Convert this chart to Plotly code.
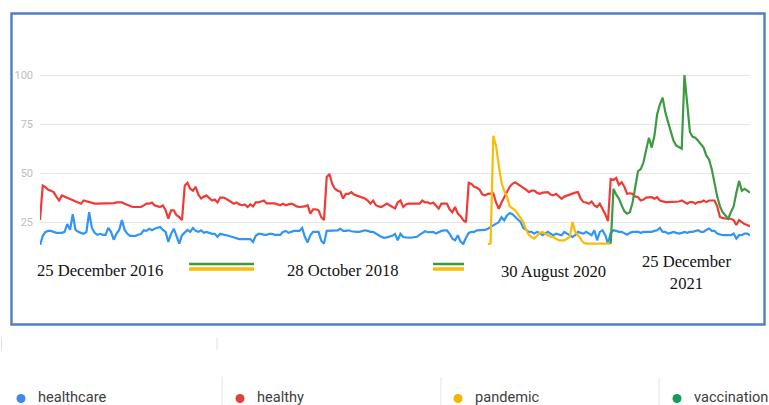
import pandas as pd
import plotly.graph_objects as go

# ---------------- data (Google Trends style, weekly) ----------------
week_start = "2016-12-25"
pandemic_start = "2020-02-16"
vaccination_start = "2020-12-27"

series_names = ["healthcare", "healthy", "pandemic", "vaccination"]
line_colors = ["#2f96f3", "#ef3b36", "#fbbc05", "#3d9a40"]
dot_colors = ["#4285f4", "#db4437", "#f4b400", "#0f9d58"]

healthcare = [
    13, 18, 20, 20.5, 20.5, 20, 19.5, 19.5, 19.5, 20,
    24, 21, 29, 21, 20, 19.5, 19, 20, 30, 22,
    19.5, 18.5, 19, 18.5, 18.5, 22, 20, 16, 19, 21,
    26, 21, 19, 18, 18, 18, 18.5, 19, 20.8, 20.5,
    21.6, 20.8, 21.6, 22, 22.5, 21, 20, 14.9, 19, 21.6,
    18, 14, 18.3,
    19.5, 21, 20, 22, 20.5, 20, 20.8, 19.5, 20, 19.5,
    19, 19, 17.5, 19, 18.5, 18.3, 18, 17.5, 17.4, 16.5,
    16.3, 16.3, 16.3, 16.3, 16.3, 14.8, 18, 19, 19, 18.5,
    18.5, 19, 19, 18.5, 18.5, 18.5, 20, 20.5, 19.5, 20,
    20.5, 20.5, 20.5, 22, 17.5, 14.6, 18.3, 20, 20, 20,
    15.5, 14,
    20.5, 20.5, 20.8, 20.8, 20.8, 21.6, 20.5, 20.5, 20.8, 20.3,
    20, 20, 20, 20.5, 20.8, 20.5, 20, 20, 19, 18.3,
    17.5, 17, 17.2, 17.5, 18, 19, 15.7, 19, 17.4, 17.2,
    17, 17, 17.3, 17.5, 18.5, 19.5, 20.3, 19.8, 20, 20,
    19.2, 20, 20.5, 20.8, 20.8, 19, 16.5, 15.7, 18.3, 15,
    13.8, 17,
    19.5, 20, 20, 20.8, 20.8, 20.8, 21, 21.6, 22.5, 23.3,
    24, 25, 27.5, 25.9, 28.4, 29.6, 29, 27.5, 26, 25,
    22, 20.8, 20, 20, 19.1, 20, 19.5, 18.3, 19, 20,
    19, 18.3, 19.1, 18.5, 18.3, 20, 19.1, 18.5, 17.4, 18.3,
    20, 19.5, 19.1, 20, 19, 18.3, 20.8, 15.7, 20, 20.8,
    18.3, 14,
    19.5, 20.8, 20.5, 20, 20, 19.1, 18.5, 19.5, 20, 20,
    20, 19.5, 20, 20, 20, 20, 20.5, 20.8, 22, 20,
    20, 19.1, 19.5, 20, 19.5, 19.1, 19.5, 20, 19.5, 20,
    20, 20.5, 20.8, 20, 20, 21, 21.7, 20.5, 20.5, 19.1,
    18.5, 18.3, 18.3, 18.3, 18.3, 19.1, 16.6, 18.3, 18.3, 19.1,
    19.1, 18.3,
]

healthy = [
    26, 43.6, 42.8, 41.5, 41, 40.3, 38, 36, 38.6, 38,
    37.5, 37, 36.3, 36, 35, 34.4, 36, 35.5, 35, 34.7,
    34.4, 34.4, 34.4, 34.4, 34.4, 34.4, 34.4, 34.7, 35, 35,
    35, 34.3, 33.6, 33.2, 32.7, 32.7, 32.7, 32.7, 33.5, 34.4,
    34.4, 35, 33.5, 33, 32.7, 33.5, 31, 26.8, 31, 31,
    28.5, 27.5, 26,
    43.6, 45, 42, 41, 43, 39, 37, 38, 38.5, 37,
    36, 36.5, 35, 37.5, 37.5, 37, 36, 35, 34.4, 35,
    34, 33.6, 34, 32.7, 34, 33, 35, 35, 35.5, 36,
    34.5, 34.5, 34.5, 34.5, 34, 33.6, 34.4, 33.6, 34, 34.4,
    33.8, 33, 32.7, 32.7, 33, 33.6, 29.3, 31.5, 31.5, 31,
    27.5, 26,
    48, 49.5, 44.5, 42, 41, 40.5, 37, 39.4, 39.4, 40.3,
    39, 38.5, 38, 37.5, 37, 36, 34.4, 36, 33.6, 33,
    32.7, 33.5, 34.4, 33.6, 33, 32, 35, 36, 32.7, 34,
    34.4, 34.4, 34.4, 34.4, 34.4, 36, 35, 35, 34.4, 35,
    33.5, 31.9, 34.4, 34.4, 34.4, 31.5, 30, 32.7, 29.3, 28,
    26, 25,
    45, 44.5, 43, 42.5, 41.5, 39, 38.6, 39.4, 39.4, 39.6,
    35, 31.8, 35, 38, 40.3, 43, 44.5, 45.3, 44.5, 43.7,
    42.5, 41.5, 40.3, 41, 41, 40, 39.4, 40, 40.3, 40.3,
    39, 38.6, 39.4, 38, 36.9, 38, 38.6, 39, 39.4, 40,
    40.3, 36.9, 35.2, 35, 34.4, 35.5, 33.5, 32.7, 34.4, 32,
    29, 25.5,
    47, 46.5, 47.5, 44, 45.3, 43, 39.4, 39.7, 39.4, 38,
    37.7, 36, 36.5, 37.5, 37.7, 37.7, 36.9, 37.7, 36, 35.5,
    35.2, 35.2, 35.2, 35.2, 35.2, 35.5, 36, 35, 34.4, 35.2,
    35.2, 34.4, 35.2, 35.2, 36, 35.2, 36, 36, 36, 33,
    27.6, 27, 26.7, 26.7, 26.7, 26, 23.5, 26, 25, 24,
    23.5, 22.7,
]

pandemic = [
    13.8, 14, 69, 64, 54, 45, 41, 38, 33, 31.8,
    31, 29, 27, 25, 21, 18.5, 17.4, 16.6, 18, 19.5,
    20, 19, 18.3, 17.5, 17.4, 16.5, 15.7, 15.7, 15.7, 16.6,
    17.4, 25, 20, 18.3, 16.6, 14.5, 14, 14, 14, 14,
    14, 14, 14, 14, 14, 14,
]

vaccination = [
    14, 42, 39, 37, 33.5, 30.5, 29.3, 30, 35, 44,
    51, 52, 55.5, 62, 68, 63, 69, 80, 85, 88.5,
    81, 76, 70.7, 66.5, 64, 63.1, 62.5, 100, 86, 71,
    68.5, 68, 66.5, 64.8, 63, 59, 57, 52, 45, 38,
    33, 30, 28.4, 26.7, 30, 33, 40, 46, 41, 42,
    41, 40,
]

date_labels = ["25 December 2016", "28 October 2018", "30 August 2020", "25 December<br>2021"]
y_ticks = [25, 50, 75, 100]

# ---------------- figure ----------------
W, H = 769, 405
ML, MR, MT, MB = 40, 19, 60, 160
PW, PH = W - ML - MR, H - MT - MB


def px(x):
    return (x - ML) / PW


def py(y):
    return (H - MB - y) / PH


main_dates = pd.date_range(week_start, periods=len(healthy), freq="7D")
pan_dates = pd.date_range(pandemic_start, periods=len(pandemic), freq="7D")
vac_dates = pd.date_range(vaccination_start, periods=len(vaccination), freq="7D")

fig = go.Figure()
for name, xs, ys, col in [
    (series_names[0], main_dates[: len(healthcare)], healthcare, line_colors[0]),
    (series_names[1], main_dates, healthy, line_colors[1]),
    (series_names[2], pan_dates, pandemic, line_colors[2]),
    (series_names[3], vac_dates, vaccination, line_colors[3]),
]:
    fig.add_trace(go.Scatter(x=xs, y=ys, name=name, mode="lines",
                             line=dict(color=col, width=2.2), showlegend=False,
                             hoverinfo="skip"))

fig.update_xaxes(range=[main_dates[0], main_dates[-1]], showgrid=False,
                 showticklabels=False, zeroline=False, showline=False, ticks="")
fig.update_yaxes(range=[13.3, 107.7], tickvals=y_ticks, showgrid=True,
                 gridcolor="#e6e6e6", gridwidth=1.2, zeroline=False, showline=False,
                 tickfont=dict(family="Roboto", size=11, color="#bdbdbd"),
                 ticks="", ticklabelstandoff=6)

shapes = []
annotations = []

# outer blue frame
shapes.append(dict(type="rect", xref="paper", yref="paper",
                   x0=px(11.5), x1=px(764.5), y0=py(324.5), y1=py(13.5),
                   line=dict(color="#4f7fc0", width=2.4), fillcolor="rgba(0,0,0,0)"))

# small legend-like swatch artifacts
for x0, x1 in [(189, 254), (433, 464)]:
    shapes.append(dict(type="line", xref="paper", yref="paper", x0=px(x0), x1=px(x1),
                       y0=py(264), y1=py(264), line=dict(color="#3d9a40", width=2.5)))
    shapes.append(dict(type="line", xref="paper", yref="paper", x0=px(x0), x1=px(x1),
                       y0=py(269), y1=py(269), line=dict(color="#fbbc05", width=3.5)))

# date labels
for txt, cx, cy in zip(date_labels, [99.5, 343, 553, 686], [270, 270, 271, 272]):
    annotations.append(dict(text=txt, xref="paper", yref="paper", x=px(cx), y=py(cy),
                            xanchor="center", yanchor="middle", showarrow=False,
                            font=dict(family="Liberation Serif", size=16.6, color="#111111")))

# faint gray ticks under the frame
for gx in [1.5, 217]:
    shapes.append(dict(type="line", xref="paper", yref="paper", x0=px(gx), x1=px(gx),
                       y0=py(338), y1=py(350), line=dict(color="#e0e0e0", width=1)))

# bottom legend
dot_x = [21, 240, 458, 677]
for name, dc, dx in zip(series_names, dot_colors, dot_x):
    shapes.append(dict(type="circle", xref="paper", yref="paper",
                       x0=px(dx - 4.5), x1=px(dx + 4.5), y0=py(403), y1=py(394),
                       fillcolor=dc, line=dict(width=0)))
    annotations.append(dict(text=name, xref="paper", yref="paper", x=px(dx + 15), y=py(396.5),
                            xanchor="left", yanchor="middle", showarrow=False,
                            font=dict(family="Roboto", size=14.6, color="#3c4043")))
for sx in [222, 441, 659]:
    shapes.append(dict(type="line", xref="paper", yref="paper", x0=px(sx), x1=px(sx),
                       y0=py(377), y1=py(405), line=dict(color="#e3e3e3", width=1)))

fig.update_layout(width=W, height=H, margin=dict(l=ML, r=MR, t=MT, b=MB),
                  paper_bgcolor="white", plot_bgcolor="white",
                  shapes=shapes, annotations=annotations, showlegend=False)

fig.write_html("out.html", config={"displayModeBar": False},
               post_script="document.body.style.margin='0';document.body.style.overflow='hidden';")
